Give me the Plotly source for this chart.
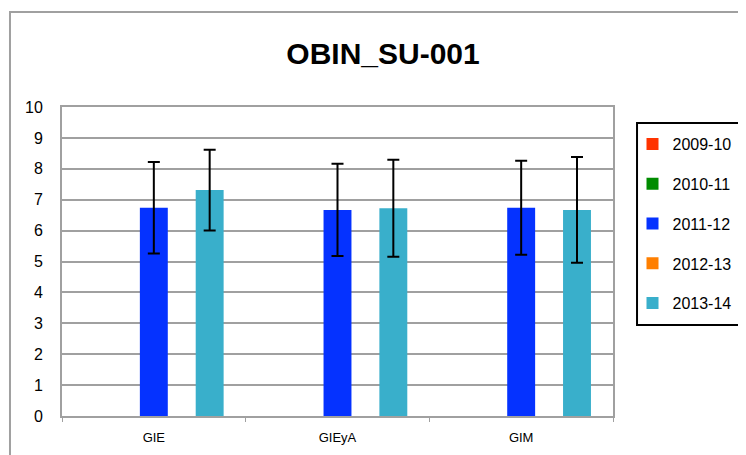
import plotly.graph_objects as go

categories = ['GIE', 'GIEyA', 'GIM']
seasons = ['2009-10', '2010-11', '2011-12', '2012-13', '2013-14']
colors = ['#FF3300', '#008C00', '#0532FF', '#FF7F00', '#39AFCB']

means = {
    '2009-10': [None, None, None],
    '2010-11': [None, None, None],
    '2011-12': [6.74, 6.67, 6.74],
    '2012-13': [None, None, None],
    '2013-14': [7.31, 6.72, 6.67],
}
errors = {
    '2009-10': [0, 0, 0],
    '2010-11': [0, 0, 0],
    '2011-12': [1.48, 1.49, 1.52],
    '2012-13': [0, 0, 0],
    '2013-14': [1.31, 1.57, 1.71],
}

FONT = 'Liberation Sans, Arial, sans-serif'
W, H = 738, 447  # page body has an 8px margin

fig = go.Figure()
for s, c in zip(seasons, colors):
    fig.add_trace(go.Bar(
        x=categories, y=means[s], name=s, legendgroup=s,
        marker=dict(color=c, line=dict(width=0)),
        error_y=dict(type='data', array=errors[s], visible=True,
                     color='black', thickness=2, width=6),
    ))

# outer chart frame (Excel style)
fig.add_shape(type='rect', xref='paper', yref='paper',
              x0=-0.0944, x1=2, y0=-1, y1=1.3074,
              line=dict(color='#A0A0A0', width=2), layer='below')
# legend frame
fig.add_shape(type='rect', xref='paper', yref='paper',
              x0=1.0436, x1=1.2323, y0=0.2945, y1=0.9482,
              line=dict(color='black', width=2), fillcolor='white', layer='below')

fig.update_layout(
    width=W, height=H,
    margin=dict(l=54, r=133, t=99, b=39, autoexpand=False),
    paper_bgcolor='white', plot_bgcolor='white',
    barmode='group', bargap=0.24, bargroupgap=0,
    font=dict(family=FONT, color='black'),
    title=dict(text='<b>OBIN_SU-001</b>', font=dict(size=30, family=FONT),
               x=375 / W, xref='container', xanchor='center',
               y=1 - 45.5 / H, yref='container', yanchor='middle'),
    xaxis=dict(showgrid=False, showline=True, linecolor='#A0A0A0', linewidth=2,
               mirror=True, ticks='outside', tickson='boundaries', ticklen=4,
               tickcolor='#A0A0A0', tickfont=dict(size=13), ticklabelstandoff=8,
               automargin=False),
    yaxis=dict(range=[0, 10], dtick=1, showgrid=True, gridcolor='#A0A0A0',
               gridwidth=2, showline=True, linecolor='#A0A0A0', linewidth=2,
               mirror=True, zeroline=False, tickfont=dict(size=16),
               ticklabelstandoff=14, automargin=False),
    legend=dict(x=1.0354, xanchor='left', y=0.9353, yanchor='top',
                borderwidth=0, bgcolor='rgba(0,0,0,0)',
                font=dict(size=16), tracegroupgap=16, traceorder='grouped',
                itemwidth=30),
    showlegend=True,
)

fig.write_html('out.html')
